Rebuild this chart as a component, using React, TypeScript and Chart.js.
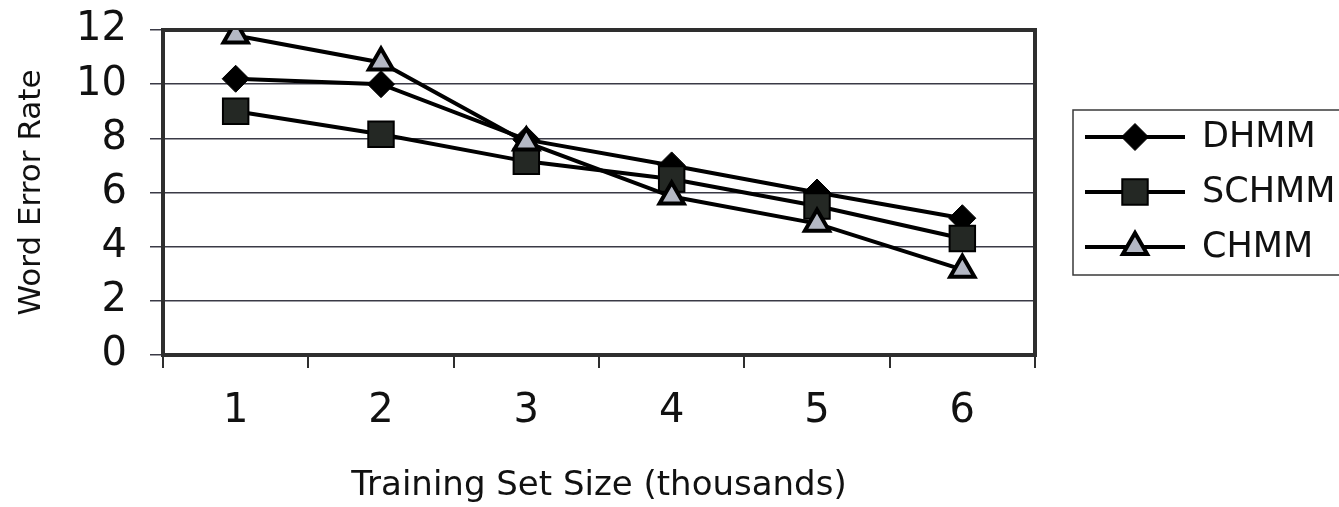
import React, { useEffect, useRef } from 'react';
import { Chart, registerables } from 'chart.js';
import { drawPoint } from 'chart.js/helpers';

Chart.register(...registerables);

// ---- data ----
const categories = ['1', '2', '3', '4', '5', '6'];
const seriesNames = ['DHMM', 'SCHMM', 'CHMM'];
const dhmmValues = [10.2, 10.0, 7.95, 7.0, 6.0, 5.05];
const schmmValues = [9.0, 8.15, 7.15, 6.5, 5.5, 4.3];
const chmmValues = [11.8, 10.8, 7.85, 5.85, 4.85, 3.15];
const yTickValues = [0, 2, 4, 6, 8, 10, 12];
const xTitle = 'Training Set Size (thousands)';
const yTitle = 'Word Error Rate';

const FONT = '"DejaVu Sans", "Liberation Sans", sans-serif';
const INK = '#111111';

export default function App() {
  const ref = useRef<HTMLCanvasElement>(null);

  useEffect(() => {
    document.body.style.margin = '0';
    document.body.style.background = '#ffffff';
    const canvas = ref.current;
    if (!canvas) return;

    const framePlugin = {
      id: 'plotFrame',
      beforeDatasetsDraw(chart: any) {
        const { left, top, right, bottom } = chart.chartArea;
        const ctx = chart.ctx;
        ctx.save();
        ctx.strokeStyle = '#2e2e2e';
        ctx.lineWidth = 4;
        ctx.strokeRect(left, top, right - left, bottom - top);
        ctx.restore();
      },
    };

    const legendPlugin = {
      id: 'boxLegend',
      afterDraw(chart: any) {
        const ctx = chart.ctx;
        ctx.save();
        ctx.strokeStyle = '#3a3a3a';
        ctx.lineWidth = 1.5;
        ctx.strokeRect(1073, 110, 340, 165);
        chart.data.datasets.forEach((ds: any, i: number) => {
          const y = 137 + i * 55;
          ctx.beginPath();
          ctx.strokeStyle = ds.borderColor;
          ctx.lineWidth = ds.borderWidth;
          ctx.moveTo(1085, y);
          ctx.lineTo(1185, y);
          ctx.stroke();
          ctx.fillStyle = ds.pointBackgroundColor;
          ctx.strokeStyle = ds.pointBorderColor;
          ctx.lineWidth = ds.pointBorderWidth;
          drawPoint(
            ctx,
            { pointStyle: ds.pointStyle, radius: ds.pointRadius, borderWidth: ds.pointBorderWidth, rotation: 0 },
            1135,
            y
          );
          ctx.fillStyle = INK;
          ctx.font = `35px ${FONT}`;
          ctx.textAlign = 'left';
          ctx.textBaseline = 'middle';
          ctx.fillText(ds.label, 1202, y + 1);
        });
        ctx.restore();
      },
    };

    const chart = new Chart(canvas, {
      type: 'line',
      data: {
        labels: categories,
        datasets: [
          {
            label: seriesNames[0],
            data: dhmmValues,
            order: 2,
            borderColor: '#000000',
            borderWidth: 4,
            pointStyle: 'rectRot',
            pointRadius: 13.5,
            pointBackgroundColor: '#000000',
            pointBorderColor: '#000000',
            pointBorderWidth: 1,
            tension: 0,
          },
          {
            label: seriesNames[1],
            data: schmmValues,
            order: 1,
            borderColor: '#000000',
            borderWidth: 4,
            pointStyle: 'rect',
            pointRadius: 18,
            pointBackgroundColor: '#242824',
            pointBorderColor: '#000000',
            pointBorderWidth: 2,
            tension: 0,
          },
          {
            label: seriesNames[2],
            data: chmmValues,
            order: 0,
            borderColor: '#000000',
            borderWidth: 4,
            pointStyle: 'triangle',
            pointRadius: 14,
            pointBackgroundColor: '#b4b8c4',
            pointBorderColor: '#000000',
            pointBorderWidth: 4,
            tension: 0,
          },
        ],
      },
      plugins: [framePlugin, legendPlugin],
      options: {
        responsive: false,
        animation: false,
        events: [],
        layout: { padding: { left: 0, top: 30, right: 304, bottom: 0 } },
        plugins: {
          legend: { display: false },
          tooltip: { enabled: false },
          title: { display: false },
        },
        scales: {
          x: {
            type: 'category',
            offset: true,
            afterFit(scale: any) {
              scale.height = 152;
              scale.paddingLeft = 0;
              scale.paddingRight = 0;
            },
            border: { display: false },
            grid: {
              offset: true,
              drawOnChartArea: false,
              drawTicks: true,
              tickLength: 13,
              color: '#2e2e2e',
              lineWidth: 2,
            },
            ticks: {
              color: INK,
              padding: 20,
              maxRotation: 0,
              font: { family: FONT, size: 40 },
            },
            title: {
              display: true,
              text: xTitle,
              color: INK,
              padding: { top: 0, bottom: 0 },
              font: { family: FONT, size: 34 },
            },
          },
          y: {
            min: yTickValues[0],
            max: yTickValues[yTickValues.length - 1],
            afterFit(scale: any) {
              scale.width = 163;
              scale.paddingTop = 0;
              scale.paddingBottom = 0;
            },
            afterBuildTicks(scale: any) {
              scale.ticks = yTickValues.map((v) => ({ value: v }));
            },
            border: { display: false },
            grid: {
              color: '#3a3a46',
              lineWidth: 1.5,
              drawTicks: true,
              tickLength: 13,
            },
            ticks: {
              color: INK,
              padding: 23,
              font: { family: FONT, size: 40 },
            },
            title: {
              display: true,
              text: yTitle,
              color: INK,
              padding: { top: 13, bottom: 0 },
              font: { family: FONT, size: 31 },
            },
          },
        },
      },
    } as any);

    return () => {
      chart.destroy();
    };
  }, []);

  return (
    <div style={{ position: 'absolute', left: 0, top: 0, width: 1339, height: 507, background: '#ffffff' }}>
      <canvas ref={ref} width={1339} height={507} style={{ display: 'block', width: 1339, height: 507 }} />
    </div>
  );
}
